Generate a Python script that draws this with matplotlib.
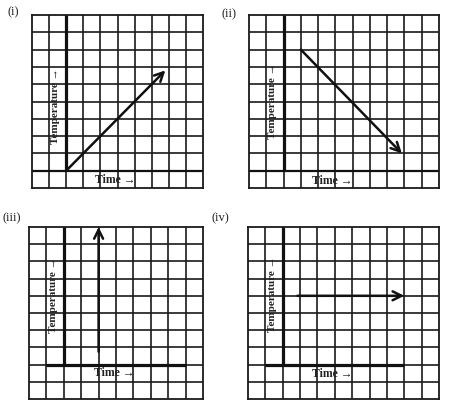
# Cuatro graficas de temperatura vs tiempo sobre papel cuadriculado.
import matplotlib.pyplot as plt

W, H = 459, 418

# Datos de cada panel
etiquetas = ["(i)", "(ii)", "(iii)", "(iv)"]
columnas = [10, 11, 10, 11]
filas = 10
# caja de cada cuadricula en pixeles: (izq, arriba, der, abajo)
cajas = [(32, 15, 203, 188), (249, 15, 439, 188),
         (29, 227, 203, 399), (248, 227, 439, 399)]
# flecha principal: inicio y fin en unidades de cuadricula
flecha_ini = [(2, 1), (3, 8), (4, 2.75), (2.85, 6)]
flecha_fin = [(7.8, 6.8), (8.85, 2), (4, 10), (9, 6)]
# eje vertical (x, y_min, y_max) y eje horizontal (y, x_min, x_max)
eje_v = [(2, 1, 10), (2, 1, 10), (2, 2, 10), (2, 2, 10)]
eje_h = [(1, 0, 10), (1, 0, 11), (2, 1, 9), (2, 1, 9)]
pos_tiempo = [(4.85, 0.45), (4.8, 0.4), (4.9, 1.5), (4.85, 1.45)]
pos_temp = [(1.35, 4.75), (1.35, 5.0), (1.4, 6.05), (1.4, 6.1)]
pos_etiqueta = [(13, 12), (229, 14), (12, 218), (220, 218)]

fig = plt.figure(figsize=(W / 100, H / 100), dpi=100)
serif = "Liberation Serif"

for i in range(4):
    x0, y0, x1, y1 = cajas[i]
    ax = fig.add_axes([x0 / W, 1 - y1 / H, (x1 - x0) / W, (y1 - y0) / H])
    nc = columnas[i]
    ax.set_xlim(0, nc)
    ax.set_ylim(0, filas)
    ax.set_xticks([])
    ax.set_yticks([])
    for s in ax.spines.values():
        s.set_color("#1a1a1a")
        s.set_linewidth(1.3)

    # cuadricula
    for k in range(1, nc):
        ax.axvline(k, color="#1a1a1a", lw=1.2)
    for k in range(1, filas):
        ax.axhline(k, color="#1a1a1a", lw=1.2)

    # ejes gruesos
    xv, va, vb = eje_v[i]
    ax.plot([xv, xv], [va, vb], color="#111111", lw=2.3, solid_capstyle="butt")
    yh, ha_, hb = eje_h[i]
    ax.plot([ha_, hb], [yh, yh], color="#111111", lw=2.3 if i >= 2 else 1.6,
            solid_capstyle="butt")

    # flecha
    ax.annotate("", xy=flecha_fin[i], xytext=flecha_ini[i],
                arrowprops=dict(arrowstyle="->", lw=1.8, color="#111111",
                                mutation_scale=16, shrinkA=0, shrinkB=0),
                annotation_clip=False)

    # textos de los ejes
    tx, ty = pos_tiempo[i]
    ax.text(tx, ty, "Time →", ha="center", va="center", fontsize=8.5,
            fontweight="bold", family=serif, color="#222222")
    px, py = pos_temp[i]
    ax.text(px, py, "Temperature →", ha="center", va="center", fontsize=8,
            fontweight="bold", family=serif, rotation=90, color="#222222")

    lx, ly = pos_etiqueta[i]
    fig.text(lx / W, 1 - ly / H, etiquetas[i], ha="center", va="center",
             fontsize=9, family=serif, color="#222222")

fig.savefig("out.png", dpi=100)
